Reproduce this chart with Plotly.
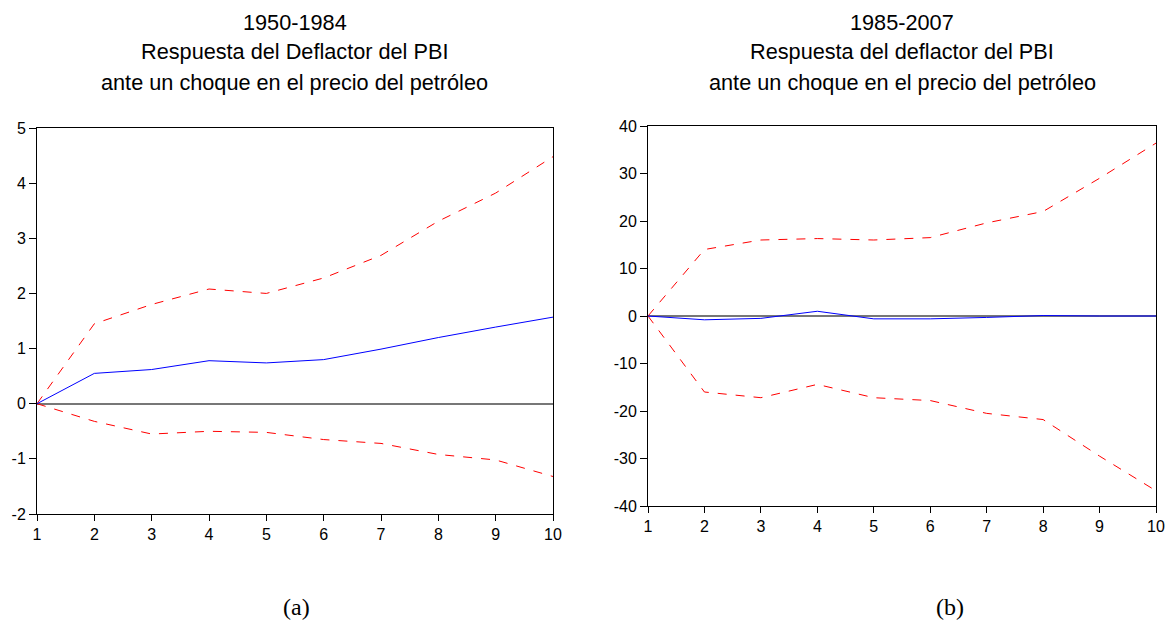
import plotly.graph_objects as go

periods = list(range(1, 11))

# Panel (a): 1950-1984
a_resp = [0, 0.55, 0.62, 0.78, 0.74, 0.80, 0.99, 1.20, 1.39, 1.57]
a_upper = [0, 1.45, 1.80, 2.08, 2.00, 2.28, 2.69, 3.31, 3.82, 4.48]
a_lower = [0, -0.32, -0.55, -0.50, -0.52, -0.65, -0.72, -0.92, -1.02, -1.32]
a_yticks = [-2, -1, 0, 1, 2, 3, 4, 5]

# Panel (b): 1985-2007
b_resp = [0, -0.8, -0.5, 1.0, -0.6, -0.6, -0.3, 0.1, 0.0, 0.0]
b_upper = [0, 14.0, 16.0, 16.3, 16.0, 16.5, 19.6, 22.0, 29.0, 36.4]
b_lower = [0, -16.0, -17.2, -14.4, -17.2, -17.8, -20.5, -21.8, -29.5, -36.8]
b_yticks = [-40, -30, -20, -10, 0, 10, 20, 30, 40]

a_title = ["1950-1984", "Respuesta del Deflactor del PBI", "ante un choque en el precio del petróleo"]
b_title = ["1985-2007", "Respuesta del deflactor del PBI", "ante un choque en el precio del petróleo"]

W, H = 1174, 626

fig = go.Figure()

def add_panel(xa, ya, resp, up, lo):
    fig.add_trace(go.Scatter(x=periods, y=up, mode="lines", xaxis=xa, yaxis=ya,
                             line=dict(color="#ff0000", width=1, dash="dash"), showlegend=False))
    fig.add_trace(go.Scatter(x=periods, y=lo, mode="lines", xaxis=xa, yaxis=ya,
                             line=dict(color="#ff0000", width=1, dash="dash"), showlegend=False))
    fig.add_trace(go.Scatter(x=periods, y=resp, mode="lines", xaxis=xa, yaxis=ya,
                             line=dict(color="#0000ff", width=1), showlegend=False))

add_panel("x", "y", a_resp, a_upper, a_lower)
add_panel("x2", "y2", b_resp, b_upper, b_lower)

tickfont = dict(family="Liberation Sans, Arial", size=16, color="#000")

def xaxis(domain, anchor):
    return dict(domain=domain, anchor=anchor, range=[1, 10], tickvals=periods,
                ticks="outside", ticklen=6, tickcolor="#000", showgrid=False,
                zeroline=False, showline=True, linecolor="#000", linewidth=1, mirror=True,
                tickfont=tickfont, automargin=False)

def yaxis(domain, anchor, rng, vals):
    return dict(domain=domain, anchor=anchor, range=rng, tickvals=vals,
                ticktext=[str(v) for v in vals],
                ticks="outside", ticklen=7, tickcolor="#000", showgrid=False,
                zeroline=True, zerolinecolor="#777", zerolinewidth=1.5,
                showline=True, linecolor="#000", linewidth=1, mirror=True,
                tickfont=tickfont, automargin=False)

fig.update_layout(
    width=W, height=H,
    margin=dict(l=0, r=0, t=0, b=0),
    paper_bgcolor="white", plot_bgcolor="white",
    xaxis=xaxis([37 / W, 553 / W], "y"),
    yaxis=yaxis([1 - 514 / H, 1 - 128 / H], "x", [-2, 5], a_yticks),
    xaxis2=xaxis([648 / W, 1156 / W], "y2"),
    yaxis2=yaxis([1 - 506 / H, 1 - 126 / H], "x2", [-40, 40], b_yticks),
)

titlefont = dict(family="Liberation Sans, Arial", size=21.7, color="#000")
for cx, lines in [(295, a_title), (902, b_title)]:
    for i, t in enumerate(lines):
        fig.add_annotation(x=cx / W, y=1 - (22 + 30 * i) / H, xref="paper", yref="paper",
                           text=t, showarrow=False, font=titlefont,
                           xanchor="center", yanchor="middle")

labfont = dict(family="Liberation Serif, Times New Roman", size=24, color="#000")
fig.add_annotation(x=297 / W, y=1 - 607 / H, xref="paper", yref="paper", text="(a)",
                   showarrow=False, font=labfont, xanchor="center", yanchor="middle")
fig.add_annotation(x=950 / W, y=1 - 607 / H, xref="paper", yref="paper", text="(b)",
                   showarrow=False, font=labfont, xanchor="center", yanchor="middle")

fig.write_html("out.html", config={"displayModeBar": False},
               post_script="document.body.style.margin='0';document.body.style.overflow='hidden';")
